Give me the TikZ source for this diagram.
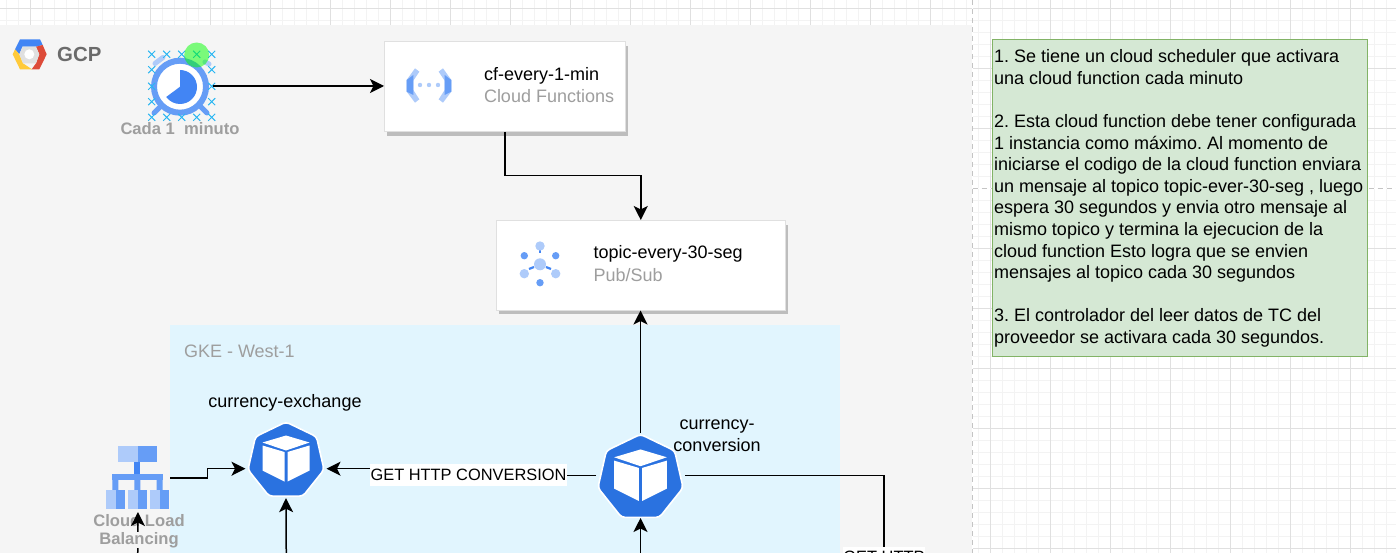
\documentclass[tikz,border=0pt]{standalone}
\usepackage{fontspec}
\setmainfont{Liberation Sans}
\frenchspacing
\usetikzlibrary{arrows.meta,calc}
\definecolor{gridminor}{HTML}{F3F3F3}
\definecolor{gridmajor}{HTML}{E0E0E0}
\definecolor{panel}{HTML}{F5F5F5}
\definecolor{gke}{HTML}{E1F5FE}
\definecolor{gLight}{HTML}{AECBFA}
\definecolor{gMid}{HTML}{669DF6}
\definecolor{gDark}{HTML}{4285F4}
\definecolor{kube}{HTML}{2A72E0}
\definecolor{greytext}{HTML}{9E9E9E}
\definecolor{notefill}{HTML}{D5E8D4}
\definecolor{noteline}{HTML}{82B366}
\definecolor{pageline}{HTML}{C4C4C4}
\definecolor{handle}{HTML}{29B6F2}
\definecolor{logoY}{HTML}{FFCA3A}
\definecolor{logoR}{HTML}{DD4B39}
\tikzset{
  conn/.style={line width=1.5pt,black,-{Stealth[length=14pt,width=14pt,inset=3.5pt]}},
  plain/.style={line width=1.5pt,black},
  card/.style={draw=gridmajor,fill=white,line width=1pt},
  shadowbox/.style={fill=black!26,draw=none},
  anchorbox/.style={inner sep=0pt,outer sep=0pt,draw=none},
  body/.style={font=\fontsize{18}{21.62}\selectfont,inner sep=0pt,outer sep=0pt,text=black},
  small/.style={font=\fontsize{18}{22.5}\selectfont,inner sep=0pt,outer sep=0pt},
  edgelabel/.style={font=\fontsize{16.4}{20}\selectfont,inner sep=0pt,outer sep=0pt,fill=white},
  boldgrey/.style={font=\bfseries\fontsize{16.6}{19}\selectfont,text=greytext,inner sep=0pt,align=center},
  handlemark/.style={handle,line width=1pt},
}
\newcommand{\kubeicon}[3]{%
  \begin{scope}[shift={(#1,#2)},x=#3pt,y=#3pt]
    \fill[kube,draw=white,line width=1.6pt,rounded corners=3.5pt]
      (90:39) -- (141.43:39) -- (192.86:39) -- (244.29:39) -- (295.71:39) -- (347.14:39) -- (38.57:39) -- cycle;
    \fill[white] (0,25.5) -- (23.5,18.5) -- (0,10.5) -- (-23.5,18.5) -- cycle;
    \fill[white] (-23.5,15.5) -- (-1.5,9) -- (-1.5,-20.5) -- (-23.5,-9.5) -- cycle;
    \fill[white] (23.5,15.5) -- (1.5,9) -- (1.5,-20.5) -- (23.5,-9.5) -- cycle;
  \end{scope}}
\begin{document}
\begin{tikzpicture}[x=1pt,y=-1pt]
\useasboundingbox (0,0) rectangle (1396,553);
\clip (0,0) rectangle (1396,553);
\fill[white] (0,0) rectangle (1396,553);
% grid
\foreach \k in {0,...,116} {\draw[gridminor,line width=1pt] ({6+12*\k},0) -- ({6+12*\k},553);}
\foreach \k in {0,...,46} {\draw[gridminor,line width=1pt] (0,{8.5+12*\k}) -- (1396,{8.5+12*\k});}
\foreach \k in {0,...,23} {\draw[gridmajor,line width=1pt] ({30+60*\k},0) -- ({30+60*\k},553);}
\foreach \k in {0,...,9} {\draw[gridmajor,line width=1pt] (0,{8.5+60*\k}) -- (1396,{8.5+60*\k});}
% page break lines
\draw[white,line width=1.2pt] (972.5,0) -- (972.5,553) (972.5,188.5) -- (1396,188.5);
\draw[pageline,line width=1pt,dash pattern=on 5pt off 4pt] (972.5,0) -- (972.5,553);
\draw[pageline,line width=1pt,dash pattern=on 5pt off 4pt] (972.5,188.5) -- (1396,188.5);
% panels
\fill[panel] (0,25) rectangle (972,553);
\fill[gke] (170,325) rectangle (840,553);
% GCP logo
\fill[gDark] (15,49.3) -- (20,39.3) -- (40,39.3) -- (42.7,45) -- (36,46.7) -- (22.5,46.7) -- (19.3,54.3) -- cycle;
\fill[logoY] (12.7,54.3) -- (15,49.3) -- (19.3,54.3) -- (23,63.3) -- (32,69.3) -- (20,69.3) -- cycle;
\fill[logoR] (42.7,45) -- (46.7,54.3) -- (39.3,69.3) -- (31.7,69.3) -- (36,63.3) -- (39.3,54.3) -- (36,46.7) -- cycle;
\fill[gridmajor] (39.3,54.3) -- (36,46.7) -- (22.5,46.7) -- (19.3,54.3) -- (23,63.3) -- (36,63.3) -- cycle;
\fill[white] (29.3,54.3) circle (5pt);
\node[anchor=west,font=\bfseries\fontsize{20.4}{24}\selectfont,text=black!58,inner sep=0pt] (gcp) at (57,54) {GCP};
% clock icon
\draw[gLight,line width=5pt,line cap=round] (155,63.5) -- (163,57.5);
\draw[gLight,line width=5pt,line cap=round] (205,62) -- (209,64);
\draw[gMid,line width=5pt,line cap=round] (154,113) -- (160,107);
\draw[gMid,line width=5pt,line cap=round] (207,113) -- (201,107);
\draw[gMid,line width=6pt,fill=white] (180,86.7) circle (26pt);
\fill[gDark] (180,86.7) -- (180,70) arc[start angle=90,end angle=-144,radius=17pt] -- cycle;
\foreach \hx/\hy in {151.7/54.3,166.7/54.3,181.7/54.3,196.7/54.3,211.7/54.3,
  151.7/69.7,211.7/69.7,151.7/86.3,211.7/86.3,151.7/101.7,211.7/101.7,
  151.7/117.3,166.7/117.3,181.7/117.3,196.7/117.3,211.7/117.3} {
  \draw[handlemark] (\hx-3.5,\hy-3.5) -- (\hx+3.5,\hy+3.5) (\hx-3.5,\hy+3.5) -- (\hx+3.5,\hy-3.5);
}
\fill[green,opacity=.5] (196.7,55) circle (12.5pt);
\node[anchor=center,boldgrey] (clocklabel) at (180,129) {Cada 1\ \ minuto};
\node[anchorbox,minimum width=66pt,minimum height=60pt] (clock) at (180,86) {};
% cards
\fill[shadowbox] (387,46) rectangle (628.3,136);
\node[card,anchor=north west,minimum width=241pt,minimum height=90pt,inner sep=0pt] (cf) at (384,41) {};
\fill[shadowbox] (499,225) rectangle (787.5,314);
\node[card,anchor=north west,minimum width=288.5pt,minimum height=89.5pt,inner sep=0pt] (topic) at (496,220) {};
\node[small,anchor=west] (cfa) at (484,76) {cf-every-1-min};
\node[small,anchor=west,text=greytext] (cfb) at (484,96) {Cloud Functions};
\node[small,anchor=west] (ta) at (593.5,254) {topic-every-30-seg};
\node[small,anchor=west,text=greytext] (tb) at (593.5,275) {Pub/Sub};
% cloud functions icon
\begin{scope}[shift={(380,30)},x=.3333pt,y=-.3333pt]
\foreach \m in {0,1} {
\begin{scope}[shift={(\m*294,0)},xscale={1-2*\m}]
\fill[gLight] (105,115) -- (118,125) -- (100,152) -- (100,180) -- (118,208) -- (105,218) -- (80,185) -- (80,150) -- cycle;
\fill[gMid] (80,150) -- (100,135) -- (100,195) -- (80,185) -- cycle;
\end{scope}}
\fill[gLight] (120,165) circle (2.2pt) (147,165) circle (2.2pt) (174,165) circle (2.2pt);
\end{scope}
% pubsub icon
\draw[gDark,line width=2.2pt] (540,247.5) -- (540,253);
\draw[gDark,line width=2.2pt] (529,269) -- (534,267);
\draw[gDark,line width=2.2pt] (551,269) -- (546,267);
\fill[gLight] (540,264.3) circle (6pt) (540,246) circle (4.7pt) (524.3,273.7) circle (4.7pt) (555.7,273.7) circle (4.7pt);
\fill[gMid] (524.3,255.7) circle (3.7pt) (555.7,255.7) circle (3.7pt) (540,282.7) circle (3.7pt);
% GKE label
\node[small,anchor=west,text=greytext] (gkel) at (184,351) {GKE - West-1};
% LB icon
\node[anchorbox,minimum width=64pt,minimum height=66pt] (lb) at (138,479) {};
\fill[gMid] (112.3,474) rectangle (162.7,480);
\fill[gMid] (112.3,474) rectangle (118.3,490) (134.3,474) rectangle (140.3,490) (156.7,474) rectangle (162.7,490);
\fill[gDark] (134.4,461.7) rectangle (140.4,474);
\fill[gLight] (118.3,445.7) rectangle (137.5,461.7);
\fill[gMid] (137.5,445.7) rectangle (156.7,461.7);
\foreach \bx in {106,128,150} {
\fill[gLight] (\bx,490) rectangle (\bx+9.5,508.7);
\fill[gMid] (\bx+9.5,490) rectangle (\bx+19,508.7);}
\node[boldgrey,anchor=center] (lbla) at (139,520.5) {Cloud Load};
% kube icons
\kubeicon{286}{461}{1}
\kubeicon{640.5}{478}{1.12}
\node[anchorbox,minimum width=81pt,minimum height=59pt] (ex) at (286,468.7) {};
\node[anchorbox,minimum width=89pt,minimum height=85pt] (conv) at (640.5,475.5) {};
\node[small,anchor=center] (exl) at (285,403) {currency-exchange};
\node[small,anchor=center,align=center] (convl) at (717,435.5) {currency-\\conversion};
% connectors
\draw[conn] (clock.east) -- (clock.east -| cf.west);
\draw[conn] (cf.south) -- (cf.south |- 0,175.5) -- (topic.north |- 0,175.5) -- (topic.north);
\draw[conn] (conv.north) -- (topic.south -| conv.north);
\coordinate (lbout) at (170,478);
\draw[conn] (lbout) -- (207.7,478) -- (207.7,468.7) -- (ex.west);
\node[edgelabel,anchor=center,minimum height=22pt,minimum width=197pt] (getconv) at (468.5,475) {GET HTTP CONVERSION};
\draw[conn] (getconv.west |- ex.east) -- (ex.east);
\draw[plain] (conv.west) -- (getconv.east |- conv.west);
\coordinate (lbin) at (137.7,560);
\coordinate (exin) at (286.3,560);
\coordinate (convin) at (640.5,560);
\coordinate (rightout) at (884,560);
\draw[conn] (lbin) -- (lb.south);
\draw[conn] (exin) -- (ex.south);
\draw[conn] (convin) -- (conv.south);
\draw[plain] (conv.east) -- (rightout |- conv.east) -- (rightout);
\node[edgelabel,anchor=center,minimum width=81pt,minimum height=20pt] (gethttp) at (884,557) {GET HTTP};
\fill[panel] (131,532) rectangle (145,548);
\node[boldgrey,anchor=center] (lblb) at (139,540.5) {Balancing};
% note
\node[draw=noteline,fill=notefill,line width=1pt,anchor=north west,minimum width=375.5pt,minimum height=316pt,inner sep=0pt] (note) at (991.5,39.5) {};
\node[body,anchor=north west,align=left] (notetext) at (994,49.5) {1. Se tiene un cloud scheduler que activara\\
una cloud function cada minuto\\
\strut\\
2. Esta cloud function debe tener configurada\\
1 instancia como máximo. Al momento de\\
iniciarse el codigo de la cloud function enviara\\
un mensaje al topico topic-ever-30-seg , luego\\
espera 30 segundos y envia otro mensaje al\\
mismo topico y termina la ejecucion de la\\
cloud function Esto logra que se envien\\
mensajes al topico cada 30 segundos\\
\strut\\
3. El controlador del leer datos de TC del\\
proveedor se activara cada 30 segundos.};
\end{tikzpicture}
\end{document}
